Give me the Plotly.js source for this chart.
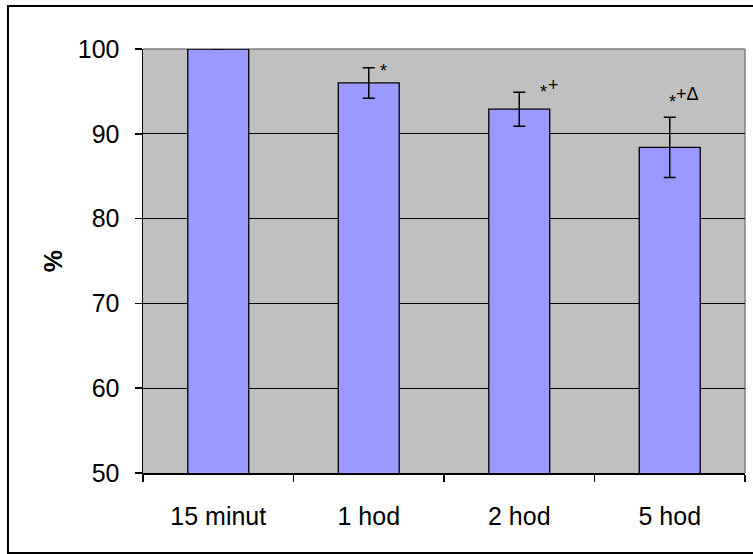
<!DOCTYPE html>
<html>
<head>
<meta charset="utf-8">
<script src="https://cdn.plot.ly/plotly-3.0.1.min.js"></script>
<style>html,body{margin:0;padding:0;background:#fff;}#chart{width:753px;height:554px;}</style>
</head>
<body>
<div id="chart"></div>
<script>
const categories = ["15 minut", "1 hod", "2 hod", "5 hod"];
const values = [100, 96.0, 92.9, 88.4];
const errors = [0, 1.8, 2.0, 3.55];
// significance marks: asterisk and the raised suffix
const starText = ["", "*", "*", "*"];
const suffixText = ["", "", "+", "+\u0394"];
const starY = [null, 97.82, 95.46, 94.22];
const suffixY = [null, null, 95.81, 94.69];
const starShift = [0, 15, 24, 3];
const suffixShift = [0, 0, 34, 18];

const trace = {
  type: "bar",
  x: categories,
  y: values,
  marker: {color: "#9999FF", line: {color: "#000000", width: 1.3}},
  error_y: {type: "data", array: errors, visible: true, color: "#000000", thickness: 1.5, width: 6},
  width: 0.405,
  hoverinfo: "skip"
};

const markFont = {family: "Liberation Sans, Arial, sans-serif", size: 18, color: "#000"};
const annotations = [];
for (let i = 0; i < categories.length; i++) {
  if (starText[i]) {
    annotations.push({
      x: categories[i], y: starY[i], xref: "x", yref: "y",
      text: starText[i], showarrow: false, xshift: starShift[i], yshift: -4,
      font: markFont
    });
  }
  if (suffixText[i]) {
    annotations.push({
      x: categories[i], y: suffixY[i], xref: "x", yref: "y",
      text: suffixText[i], showarrow: false, xshift: suffixShift[i],
      font: markFont
    });
  }
}

const layout = {
  width: 753, height: 554,
  margin: {l: 143, r: 8, t: 49, b: 81},
  paper_bgcolor: "#ffffff",
  plot_bgcolor: "#C0C0C0",
  showlegend: false,
  font: {family: "Liberation Sans, Arial, sans-serif", size: 25, color: "#000"},
  xaxis: {
    type: "category",
    showline: true, linecolor: "#000", linewidth: 1.5,
    ticks: "outside", tickson: "boundaries", ticklen: 7, tickcolor: "#000", tickwidth: 1.5,
    ticklabelstandoff: 20,
    showgrid: false, zeroline: false,
    tickfont: {size: 25}
  },
  yaxis: {
    range: [50, 100], dtick: 10,
    showline: true, linecolor: "#000", linewidth: 1.5,
    ticks: "outside", ticklen: 7, tickcolor: "#000", tickwidth: 1.5,
    ticklabelstandoff: 10,
    showgrid: true, gridcolor: "#000", gridwidth: 1,
    zeroline: false,
    tickfont: {size: 25},
    title: {text: "<b>%</b>", font: {size: 25}, standoff: 8}
  },
  shapes: [
    {type: "rect", xref: "paper", yref: "paper", x0: -0.2243, x1: 1.2, y0: -0.1887, y1: 1.1014,
     line: {color: "#000", width: 2}, fillcolor: "rgba(0,0,0,0)", layer: "above"},
    {type: "line", xref: "paper", yref: "paper", x0: 0, x1: 1, y0: 1, y1: 1,
     line: {color: "#808080", width: 1.5}, layer: "below"},
    {type: "line", xref: "paper", yref: "paper", x0: 1, x1: 1, y0: 0, y1: 1,
     line: {color: "#808080", width: 1.5}, layer: "below"}
  ],
  annotations: annotations,
  bargap: 0.6
};

Plotly.newPlot("chart", [trace], layout, {displayModeBar: false, staticPlot: true});
</script>
</body>
</html>
